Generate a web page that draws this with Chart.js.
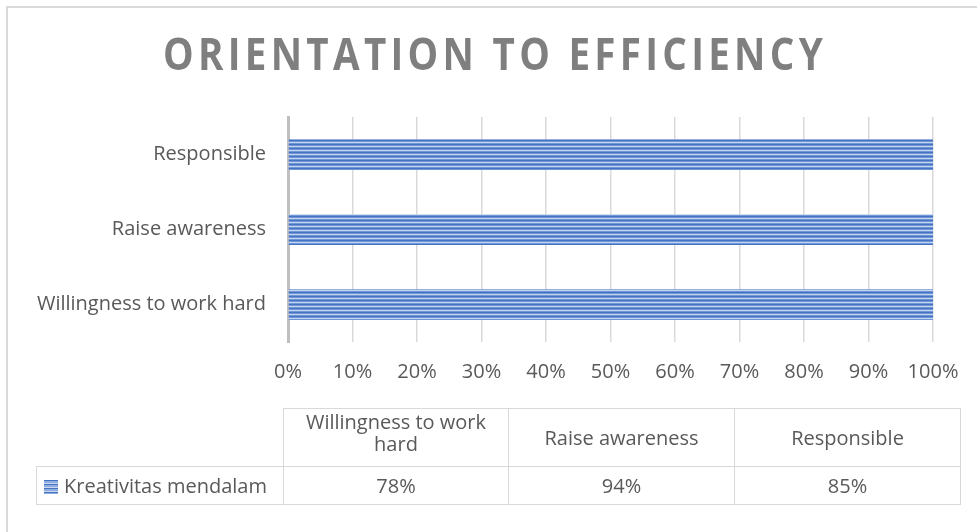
<!DOCTYPE html>
<html>
<head>
<meta charset="utf-8">
<script src="https://cdn.jsdelivr.net/npm/chart.js@4/dist/chart.umd.min.js"></script>
<style>
body{margin:0;background:#fff;font-family:"Open Sans",sans-serif;}
#wrap{position:relative;width:977px;height:532px;overflow:hidden;background:#fff;}
#frame{position:absolute;left:6px;top:6px;width:1000px;height:600px;border-left:2px solid #d9d9d9;border-top:2px solid #d9d9d9;}
#chart{position:absolute;left:0;top:0;}
#tbl{position:absolute;left:36px;top:408px;border-collapse:collapse;table-layout:fixed;width:924px;color:#595959;font-size:20px;line-height:22px;}
#tbl td{border:1.5px solid #d9d9d9;text-align:center;padding:0 4px;}
#tbl td.blank{border-top:none;border-left:none;}
#tbl td.wrap2{padding-bottom:10px;}
#tbl td.leg{text-align:left;padding-left:7px;white-space:nowrap;}
.mark{display:inline-block;width:14px;height:14px;margin-right:6px;vertical-align:-1px;
  background:repeating-linear-gradient(180deg,#4472c4 0,#4472c4 1.5px,#8fadde 1.5px,#8fadde 3px,#c9d8f0 3px,#c9d8f0 4px);}
</style>
</head>
<body>
<div id="wrap">
  <div id="frame"></div>
  <canvas id="chart" width="977" height="532"></canvas>
  <table id="tbl"></table>
</div>
<script>
/* ===============================
  Orientation to efficiency
================================ */
const title = 'ORIENTATION TO EFFICIENCY';
const categories = ['Willingness to work hard', 'Raise awareness', 'Responsible'];
const seriesName = 'Kreativitas mendalam';
const seriesValues = [78, 94, 85];
const xTicks = [0, 10, 20, 30, 40, 50, 60, 70, 80, 90, 100];

// 100% stacked: each bar is its share of the category total
const allSeries = [seriesValues];
const totals = categories.map((c, i) => allSeries.reduce((s, a) => s + a[i], 0));
const shares = seriesValues.map((v, i) => v / totals[i] * 100);

const txt = '#595959';
const font = {family: 'Open Sans', size: 20};

function stripes(ctx){
    const c = document.createElement('canvas');
    c.width = 4; c.height = 4;
    const g = c.getContext('2d');
    ['#4472c4', '#7196d6', '#c3d4ef', '#7196d6'].forEach((col, i) => {
        g.fillStyle = col; g.fillRect(0, i, 4, 1);
    });
    return ctx.createPattern(c, 'repeat');
}

const titlePlugin = {
    id: 'bigTitle',
    afterDraw(chart){
        const ctx = chart.ctx;
        ctx.save();
        ctx.font = 'bold 45px "Open Sans"';
        ctx.letterSpacing = '5px';
        const w = ctx.measureText(title).width;
        const sx = 664 / w;
        ctx.fillStyle = '#7f7f7f';
        ctx.textBaseline = 'alphabetic';
        ctx.translate(495 - 332, 70);
        ctx.scale(sx, 1);
        ctx.fillText(title, 0, 0);
        ctx.restore();
    }
};

const ctx = document.getElementById('chart').getContext('2d');
new Chart(ctx, {
    type: 'bar',
    data: {
        labels: categories,
        datasets: [{
            label: seriesName,
            data: shares,
            backgroundColor: stripes(ctx),
            borderWidth: 0,
            barPercentage: 1,
            categoryPercentage: 0.41
        }]
    },
    options: {
        indexAxis: 'y',
        responsive: false,
        animation: false,
        layout: {padding: {top: 117, right: 44, bottom: 130, left: 0}},
        plugins: {legend: {display: false}, tooltip: {enabled: false}},
        scales: {
            x: {
                stacked: true,
                min: 0, max: 100,
                afterBuildTicks(s){ s.ticks = xTicks.map(v => ({value: v})); },
                afterFit(s){ s.height = 60; },
                grid: {color: '#d9d9d9', lineWidth: 1.5, drawTicks: false},
                border: {display: false},
                ticks: {color: txt, font: font, padding: 18, maxRotation: 0,
                    callback: v => v + '%'}
            },
            y: {
                stacked: true,
                reverse: true,
                afterFit(s){ s.width = 288; },
                grid: {display: false, drawTicks: false},
                border: {color: '#bfbfbf', width: 3},
                ticks: {color: txt, font: font, padding: 22}
            }
        }
    },
    plugins: [titlePlugin]
});

// data table under the chart
const tbl = document.getElementById('tbl');
let html = '<colgroup><col style="width:247px"><col style="width:225px"><col style="width:226px"><col style="width:226px"></colgroup>';
html += '<tr style="height:58px"><td class="blank"></td>' +
    categories.map(c => '<td' + (c.length > 20 ? ' class="wrap2"' : '') + '>' + c + '</td>').join('') + '</tr>';
html += '<tr style="height:38px"><td class="leg"><span class="mark"></span>' + seriesName + '</td>' +
    seriesValues.map(v => '<td>' + v + '%</td>').join('') + '</tr>';
tbl.innerHTML = html;
</script>
</body>
</html>
